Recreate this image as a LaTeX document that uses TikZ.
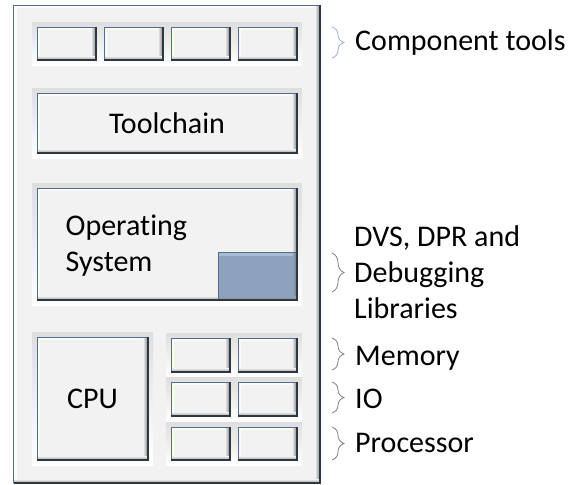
\documentclass[tikz,border=0pt]{standalone}
\usepackage{fontspec}
\setmainfont[Ligatures=NoCommon]{Carlito}
\usetikzlibrary{decorations.pathreplacing}
\definecolor{bgfill}{HTML}{F2F2F2}
\definecolor{edgeblue}{HTML}{4E6E94}
\definecolor{edgedark}{HTML}{2E3640}
\definecolor{osblue}{HTML}{8DA2BC}
\definecolor{oslight}{HTML}{B2C2D6}
\definecolor{bracegray}{HTML}{808080}
\definecolor{braceblue}{HTML}{9DB3CC}

% bevel decoration on a named node: #1 node, #2 fill colour
\newcommand{\bevelon}[2]{%
  \fill[white, opacity=0.75] (#1.north west) rectangle ([yshift=-3pt]#1.north east);
  \fill[white, opacity=0.75] (#1.north west) rectangle ([xshift=3pt]#1.south west);
  \shade[left color=#2, right color=black!50] ([xshift=-5pt]#1.north east) rectangle (#1.south east);
  \shade[top color=#2, bottom color=black!40] ([yshift=4pt]#1.south west) rectangle (#1.south east);
  \draw[edgeblue, line width=1pt] (#1.south west) -- (#1.north west) -- (#1.north east);
  \draw[edgedark, line width=1.3pt] (#1.north east) -- (#1.south east) -- (#1.south west);
}
% framed bevelled box: #1 name, #2 x1, #3 y1, #4 x2, #5 y2, #6 text
\newcommand{\bevbox}[6]{%
  \shade[top color=black!13, bottom color=white] (#2-5,#3-5) rectangle (#4+5,#5+5);
  \node[boxbase, minimum width={(#4-#2)*1pt}, minimum height={(#5-#3)*1pt}]
    (#1) at ({(#2+#4)/2},{(#3+#5)/2}) {#6};
  \bevelon{#1}{bgfill}
}

\begin{document}
\begin{tikzpicture}[x={(1pt,0)}, y={(0,-1pt)},
  boxbase/.style={rectangle, inner sep=0pt, outer sep=0pt, draw=none, fill=bgfill,
    font=\fontsize{30}{36}\selectfont},
  lbl/.style={font=\fontsize{30}{36}\selectfont, inner sep=0pt, anchor=base west},
  brc/.style={decorate, decoration={brace, amplitude=12pt}, line width=0.8pt, draw=bracegray}]
\useasboundingbox[fill=white] (0,0) rectangle (579,485);

% outer board
\node[boxbase, minimum width=306.5pt, minimum height=478pt] (board) at (166.75,244) {};
\bevelon{board}{bgfill}

% component tools
\bevbox{ct1}{37}{27}{96}{60}{}
\bevbox{ct2}{104}{27}{163}{60}{}
\bevbox{ct3}{171}{27}{230}{60}{}
\bevbox{ct4}{238}{27}{297}{60}{}

% toolchain
\bevbox{tool}{37}{93}{297}{153}{Toolchain}

% operating system
\bevbox{os}{37}{188}{297}{300}{}
\node[lbl, anchor=base west] (ostext) at (65.5,235) {Operating};
\node[lbl, anchor=base west] (ostext2) at (65.5,271) {System};
\node[rectangle, inner sep=0pt, outer sep=0pt, fill=osblue, minimum width=79pt, minimum height=48pt] (lib) at (257.5,276) {};
\fill[oslight, opacity=0.8] (lib.north west) rectangle ([yshift=-4pt]lib.north east);
\shade[left color=osblue, right color=black!55] ([xshift=-4pt]lib.north east) rectangle (lib.south east);
\shade[top color=osblue, bottom color=black!45] ([yshift=4pt]lib.south west) rectangle (lib.south east);
\draw[edgeblue, line width=1pt] (lib.south west) -- (lib.north west) -- (lib.north east);
\draw[edgedark, line width=1.3pt] (lib.north east) -- (lib.south east) -- (lib.south west);

% hardware
\bevbox{cpu}{37}{337}{148}{460}{CPU}
\bevbox{m1}{171}{338}{230}{372}{}
\bevbox{m2}{238}{338}{297}{372}{}
\bevbox{i1}{171}{382}{230}{416}{}
\bevbox{i2}{238}{382}{297}{416}{}
\bevbox{p1}{171}{427}{230}{460}{}
\bevbox{p2}{238}{427}{297}{460}{}

% braces
\coordinate (b1a) at (332,27);  \coordinate (b1b) at (332,58);
\coordinate (b2a) at (332,253); \coordinate (b2b) at (332,292);
\coordinate (b3a) at (332,338); \coordinate (b3b) at (332,370);
\coordinate (b4a) at (332,382); \coordinate (b4b) at (332,413);
\coordinate (b5a) at (332,427); \coordinate (b5b) at (332,460);
\draw[brc, draw=braceblue] (b1a) -- (b1b);
\draw[brc] (b2a) -- (b2b);
\draw[brc] (b3a) -- (b3b);
\draw[brc] (b4a) -- (b4b);
\draw[brc] (b5a) -- (b5b);

% labels
\node[lbl] (lcomp) at (355,50) {Component tools};
\node[lbl, anchor=west, align=left] (ldvs) at (354,272) {DVS, DPR and\\Debugging\\Libraries};
\node[lbl] (lmem) at (355,365) {Memory};
\node[lbl] (lio) at (355,408) {IO};
\node[lbl] (lproc) at (355,452) {Processor};
\end{tikzpicture}
\end{document}
